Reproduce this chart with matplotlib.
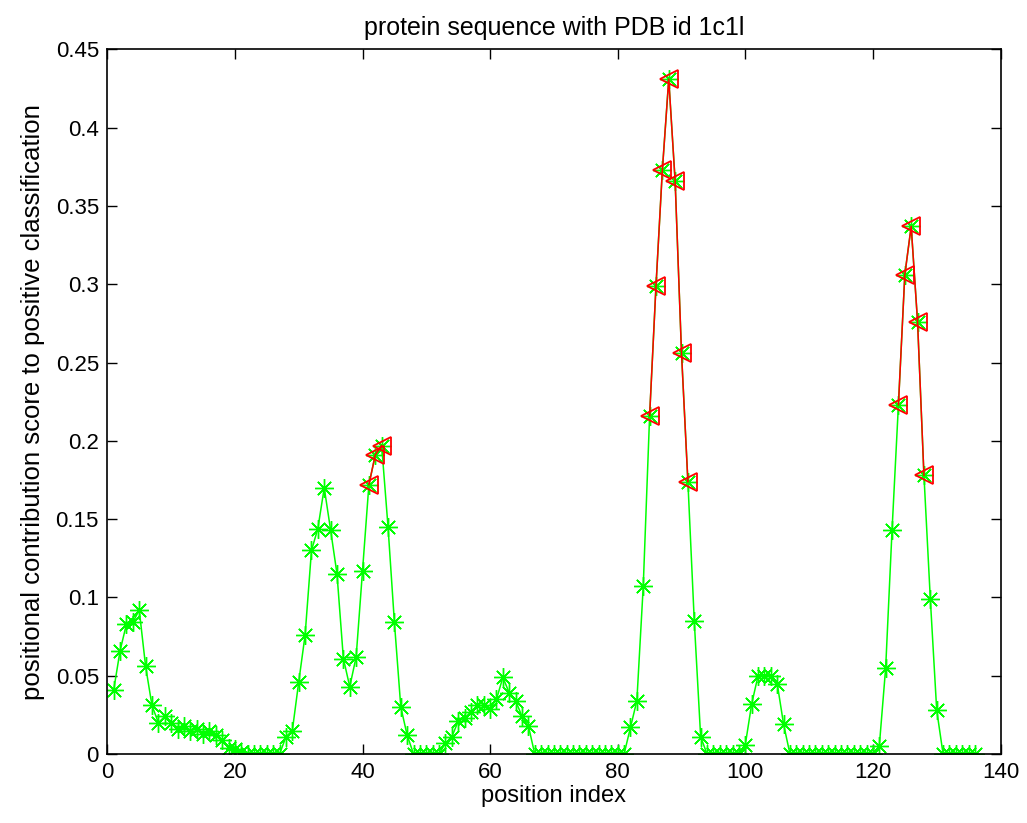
import numpy as np
import matplotlib
matplotlib.use('Agg')
import matplotlib.pyplot as plt

plt.rcParams['font.family'] = ['Liberation Sans', 'DejaVu Sans']

# 每个位置的贡献分数（位置 1..136）
scores = [
    0.041, 0.066, 0.083, 0.084, 0.092, 0.056, 0.031, 0.020, 0.024, 0.020,
    0.016, 0.018, 0.015, 0.016, 0.013, 0.015, 0.012, 0.009, 0.004, 0.003,
    0.001, 0.0, 0.0, 0.0, 0.0, 0.0, 0.0, 0.011, 0.015, 0.046,
    0.076, 0.130, 0.144, 0.170, 0.143, 0.115, 0.061, 0.043, 0.062, 0.117,
    0.172, 0.191, 0.197, 0.145, 0.084, 0.030, 0.012, 0.0, 0.0, 0.0,
    0.0, 0.0, 0.007, 0.011, 0.021, 0.023, 0.027, 0.031, 0.031, 0.029,
    0.035, 0.049, 0.039, 0.034, 0.024, 0.018, 0.0, 0.0, 0.0, 0.0,
    0.0, 0.0, 0.0, 0.0, 0.0, 0.0, 0.0, 0.0, 0.0, 0.0,
    0.0, 0.017, 0.034, 0.107, 0.216, 0.299, 0.373, 0.431, 0.366, 0.256,
    0.174, 0.085, 0.011, 0.0, 0.0, 0.0, 0.0, 0.0, 0.0, 0.006,
    0.032, 0.050, 0.050, 0.050, 0.045, 0.019, 0.0, 0.0, 0.0, 0.0,
    0.0, 0.0, 0.0, 0.0, 0.0, 0.0, 0.0, 0.0, 0.0, 0.0,
    0.005, 0.055, 0.143, 0.223, 0.306, 0.337, 0.276, 0.178, 0.099, 0.028,
    0.0, 0.0, 0.0, 0.0, 0.0, 0.0,
]
positions = list(range(1, len(scores) + 1))

# 高亮的片段（红色三角）
highlight_segments = [(41, 43), (85, 91), (124, 128)]

x_ticks = [0, 20, 40, 60, 80, 100, 120, 140]
y_ticks = [0, 0.05, 0.1, 0.15, 0.2, 0.25, 0.3, 0.35, 0.4, 0.45]
y_tick_labels = ['0', '0.05', '0.1', '0.15', '0.2', '0.25', '0.3', '0.35', '0.4', '0.45']

fig = plt.figure(figsize=(10.27, 8.23), dpi=100)
ax = fig.add_axes([0.1045, 0.0838, 0.8697, 0.8562])

# 星号标记（类似 MATLAB 的 '*'）
ax.plot(positions, scores, color=(0, 1, 0), linewidth=1.1, marker=(8, 2, 0),
        markersize=13.5, markeredgewidth=1.0)

for start, end in highlight_segments:
    xs = positions[start - 1:end]
    ys = scores[start - 1:end]
    ax.plot(xs, ys, color=(1, 0, 0), linewidth=1.1, marker='<',
            markersize=12.5, markerfacecolor='none', markeredgecolor=(1, 0, 0),
            markeredgewidth=1.3)

ax.set_xlim(0, 140)
ax.set_ylim(0, 0.45)
ax.set_xticks(x_ticks)
ax.set_yticks(y_ticks)
ax.set_yticklabels(y_tick_labels)
ax.tick_params(direction='in', length=7, width=1, top=True, right=True,
               labelsize=16, pad=6)
for sp in ax.spines.values():
    sp.set_linewidth(1.2)

ax.set_title('protein sequence with PDB id 1c1l', fontsize=18, pad=10)
ax.set_xlabel('position index', fontsize=17, labelpad=1)
ax.set_ylabel('positional contribution score to positive classification', fontsize=18.5, labelpad=8)

fig.savefig('out.png', dpi=100)
